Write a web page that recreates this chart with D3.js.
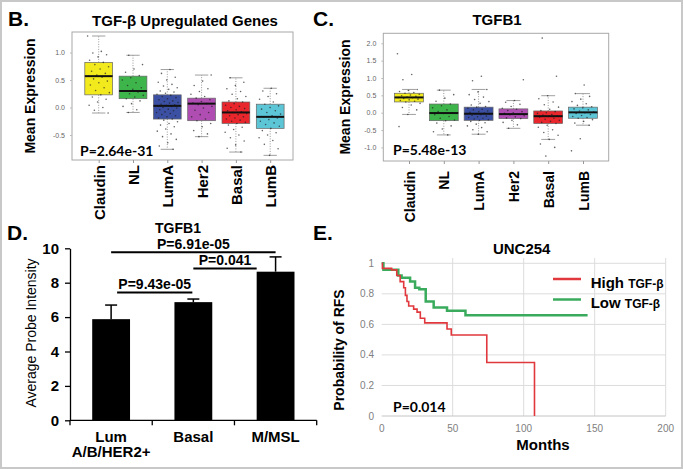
<!DOCTYPE html>
<html lang="en">
<head>
<meta charset="utf-8">
<title>TGF-beta panels</title>
<script src="https://d3js.org/d3.v7.min.js"></script>
<style>
  body { margin: 0; background: #fff; }
  svg { font-family: "Liberation Sans", Arial, sans-serif; display: block; }
</style>
</head>
<body>
<script>
// ---- data ----
const subtypes = ["Claudin", "NL", "LumA", "Her2", "Basal", "LumB"];
const subtypeColors = ["#f2ea1d", "#3db54a", "#3b4fa3", "#b04db2", "#e8262c", "#5cc5d6"];

// panel B: TGF-b upregulated genes (box stats: low whisker, q1, median, q3, high whisker)
const bLow = [-0.10, -0.09, -0.76, -0.53, -0.81, -0.87];
const bQ1 = [0.23, 0.16, -0.21, -0.24, -0.29, -0.38];
const bMed = [0.57, 0.30, 0.03, 0.07, -0.09, -0.17];
const bQ3 = [0.82, 0.57, 0.23, 0.17, 0.10, 0.06];
const bHigh = [1.30, 0.95, 0.69, 0.59, 0.54, 0.35];
const bTicks = [-0.5, 0.0, 0.5, 1.0];
const bPoints = [
  [1.30, 1.02, 0.99, 0.96, 0.92, 0.86, 0.82, 0.78, 0.74, 0.70, 0.66, 0.62, 0.59, 0.57, 0.55, 0.52, 0.48, 0.45, 0.41, 0.36, 0.31, 0.27, 0.23, 0.19, 0.15, 0.10, 0.04, 0.00, -0.05, -0.10],
  [0.95, 0.78, 0.70, 0.64, 0.58, 0.54, 0.50, 0.45, 0.40, 0.36, 0.33, 0.30, 0.28, 0.25, 0.22, 0.19, 0.16, 0.12, 0.07, 0.02, -0.04, -0.09],
  [0.69, 0.62, 0.55, 0.50, 0.46, 0.42, 0.39, 0.36, 0.33, 0.30, 0.28, 0.26, 0.24, 0.22, 0.20, 0.18, 0.16, 0.14, 0.12, 0.11, 0.09, 0.08, 0.06, 0.05, 0.04, 0.03, 0.02, 0.00, -0.01, -0.03, -0.04, -0.06, -0.08, -0.09, -0.11, -0.13, -0.15, -0.17, -0.19, -0.21, -0.23, -0.26, -0.29, -0.32, -0.35, -0.39, -0.43, -0.48, -0.53, -0.58, -0.64, -0.70, -0.76],
  [0.59, 0.48, 0.40, 0.34, 0.29, 0.24, 0.20, 0.17, 0.14, 0.11, 0.08, 0.07, 0.05, 0.02, -0.01, -0.05, -0.09, -0.13, -0.17, -0.21, -0.24, -0.29, -0.35, -0.42, -0.48, -0.53],
  [0.54, 0.46, 0.40, 0.34, 0.29, 0.24, 0.20, 0.16, 0.12, 0.10, 0.07, 0.04, 0.02, 0.00, -0.02, -0.04, -0.06, -0.08, -0.09, -0.11, -0.13, -0.15, -0.17, -0.19, -0.21, -0.23, -0.25, -0.27, -0.29, -0.32, -0.36, -0.40, -0.45, -0.50, -0.55, -0.61, -0.68, -0.74, -0.81],
  [0.35, 0.30, 0.25, 0.20, 0.15, 0.10, 0.06, 0.03, 0.00, -0.03, -0.06, -0.09, -0.12, -0.15, -0.17, -0.19, -0.22, -0.25, -0.28, -0.31, -0.34, -0.38, -0.42, -0.46, -0.50, -0.55, -0.60, -0.67, -0.75, -0.87]
];

// panel C: TGFB1
const cLow = [-0.05, -0.64, -0.62, -0.45, -0.77, -0.36];
const cQ1 = [0.31, -0.23, -0.22, -0.17, -0.31, -0.16];
const cMed = [0.44, -0.01, -0.03, -0.04, -0.10, 0.01];
const cQ3 = [0.56, 0.25, 0.16, 0.11, 0.05, 0.16];
const cHigh = [0.67, 0.65, 0.67, 0.35, 0.49, 0.55];
const cTicks = [-1.0, -0.5, 0.0, 0.5, 1.0, 1.5, 2.0];
const cPoints = [
  [1.70, 1.10, 0.95, 0.67, 0.64, 0.61, 0.58, 0.56, 0.53, 0.51, 0.49, 0.47, 0.45, 0.44, 0.43, 0.41, 0.39, 0.37, 0.35, 0.33, 0.31, 0.27, 0.22, 0.15, 0.08, -0.05, -0.40],
  [0.65, 0.52, 0.42, 0.33, 0.25, 0.20, 0.14, 0.08, 0.03, 0.00, -0.02, -0.06, -0.11, -0.16, -0.21, -0.23, -0.30, -0.38, -0.47, -0.55, -0.64],
  [1.05, 0.92, 0.67, 0.60, 0.52, 0.45, 0.38, 0.32, 0.27, 0.22, 0.18, 0.16, 0.13, 0.10, 0.08, 0.05, 0.03, 0.01, -0.01, -0.03, -0.04, -0.06, -0.08, -0.10, -0.12, -0.14, -0.16, -0.18, -0.20, -0.22, -0.25, -0.29, -0.33, -0.38, -0.43, -0.49, -0.55, -0.62],
  [0.95, 0.35, 0.30, 0.24, 0.18, 0.13, 0.10, 0.06, 0.03, 0.00, -0.02, -0.04, -0.06, -0.09, -0.12, -0.15, -0.17, -0.22, -0.28, -0.35, -0.45],
  [2.15, 1.05, 0.49, 0.40, 0.31, 0.23, 0.16, 0.10, 0.06, 0.03, 0.00, -0.02, -0.05, -0.07, -0.09, -0.11, -0.13, -0.16, -0.19, -0.22, -0.25, -0.28, -0.31, -0.36, -0.42, -0.49, -0.57, -0.65, -0.77, -0.90, -1.00, -1.25],
  [0.80, 0.55, 0.47, 0.39, 0.32, 0.26, 0.21, 0.17, 0.14, 0.11, 0.08, 0.05, 0.02, 0.00, -0.02, -0.05, -0.08, -0.11, -0.14, -0.16, -0.20, -0.25, -0.30, -0.36, -0.75, -1.10]
];

// panel D: TGFB1 average probe intensity
const dGroups = ["Lum A/B/HER2+", "Basal", "M/MSL"];
const dMeans = [5.88, 6.87, 8.64];
const dErr = [0.82, 0.18, 0.86];
const dTicks = [0, 2, 4, 6, 8, 10];
const dComparisons = [
  { a: "Lum A/B/HER2+", b: "M/MSL", p: "P=6.91e-05" },
  { a: "Basal", b: "M/MSL", p: "P=0.041" },
  { a: "Lum A/B/HER2+", b: "Basal", p: "P=9.43e-05" }
];

// panel E: UNC254 relapse-free survival
const highT = [0, 0.5, 7, 10.6, 13, 15.5, 16.7, 17.8, 19, 22.5, 24.9, 27.2, 30.3, 46, 49, 74, 107.6];
const highS = [1, 0.967, 0.957, 0.92, 0.88, 0.84, 0.79, 0.75, 0.72, 0.70, 0.68, 0.64, 0.61, 0.57, 0.53, 0.35, 0];
const lowT = [0, 1.2, 11.7, 14, 20, 23.5, 26.5, 31, 36.6, 46, 59, 145];
const lowS = [1, 0.957, 0.92, 0.906, 0.88, 0.84, 0.83, 0.75, 0.71, 0.69, 0.66, 0.66];
const eXTicks = [0, 50, 100, 150, 200];
const eYTicks = [0, 0.2, 0.4, 0.6, 0.8, 1];

// ---- svg ----
const width = 683, height = 469;
const svg = d3.select("body").append("svg")
  .attr("width", width)
  .attr("height", height);

svg.append("rect")
  .attr("x", 1).attr("y", 1)
  .attr("width", width - 2).attr("height", height - 2)
  .attr("fill", "#fff")
  .attr("stroke", "#c8c8c8")
  .attr("stroke-width", 2);

// panel letters
[["B.", 8, 26], ["C.", 313, 26], ["D.", 7, 240], ["E.", 313, 240]].forEach(l => {
  svg.append("text").attr("x", l[1]).attr("y", l[2])
    .attr("font-size", 21).attr("font-weight", "bold").text(l[0]);
});

// ---- box plot panels (B and C) ----
function boxPanel(o) {
  const g = svg.append("g");
  const x = o.x, y = o.y;
  const boxW = x.step() * o.boxFrac;

  g.append("rect")
    .attr("x", o.frame[0]).attr("y", o.frame[2])
    .attr("width", o.frame[1] - o.frame[0]).attr("height", o.frame[3] - o.frame[2])
    .attr("fill", "none").attr("stroke", "#a8a8a8");

  const left = g.append("g")
    .attr("transform", "translate(" + o.frame[0] + ",0)")
    .call(d3.axisLeft(y).tickValues(o.ticks).tickSize(2).tickPadding(5)
      .tickFormat(d => d.toFixed(1).replace("\u2212", "-")));
  left.select(".domain").remove();
  left.selectAll("line").attr("stroke", "#bbb");
  left.selectAll("text").attr("font-size", 7).attr("fill", "#666").attr("font-family", "Liberation Sans, Arial");

  const bottom = g.append("g")
    .attr("transform", "translate(0," + o.frame[3] + ")")
    .call(d3.axisBottom(x).tickSize(3));
  bottom.select(".domain").remove();
  bottom.selectAll("line").attr("stroke", "#999");
  bottom.selectAll("text")
    .attr("transform", "rotate(-90)")
    .attr("x", -o.labelGap).attr("y", 0).attr("dy", "0.36em")
    .style("text-anchor", "end")
    .attr("font-size", o.labelSize).attr("font-weight", "bold")
    .attr("fill", "#000").attr("font-family", "Liberation Sans, Arial");

  subtypes.forEach((s, i) => {
    const cx = x(s);
    // whiskers
    g.append("line").attr("x1", cx).attr("x2", cx)
      .attr("y1", y(o.q3[i])).attr("y2", y(o.hi[i]))
      .attr("stroke", "#999").attr("stroke-dasharray", "1,1.5");
    g.append("line").attr("x1", cx).attr("x2", cx)
      .attr("y1", y(o.q1[i])).attr("y2", y(o.lo[i]))
      .attr("stroke", "#999").attr("stroke-dasharray", "1,1.5");
    [o.hi[i], o.lo[i]].forEach(v => {
      g.append("line")
        .attr("x1", cx - boxW * 0.24).attr("x2", cx + boxW * 0.24)
        .attr("y1", y(v)).attr("y2", y(v))
        .attr("stroke", "#888").attr("stroke-width", 0.8);
    });
    g.append("rect")
      .attr("x", cx - boxW / 2).attr("y", y(o.q3[i]))
      .attr("width", boxW).attr("height", y(o.q1[i]) - y(o.q3[i]))
      .attr("fill", subtypeColors[i])
      .attr("stroke", "#666").attr("stroke-width", 0.7);
    // jittered points
    g.selectAll(null).data(o.points[i]).enter().append("circle")
      .attr("cx", (d, j) => cx + (((j * 0.618034 + i * 0.31) % 1) - 0.5) * boxW * 0.8)
      .attr("cy", d => y(d))
      .attr("r", 0.8)
      .attr("fill", "#222").attr("opacity", 0.7);
    g.append("line")
      .attr("x1", cx - boxW / 2).attr("x2", cx + boxW / 2)
      .attr("y1", y(o.med[i])).attr("y2", y(o.med[i]))
      .attr("stroke", "#111").attr("stroke-width", 2);
  });

  g.append("text").attr("x", o.pPos[0]).attr("y", o.pPos[1])
    .attr("font-family", "Lato, 'Open Sans', sans-serif").attr("font-weight", "bold")
    .attr("font-size", 14).text(o.pText);

  g.append("text")
    .attr("transform", "translate(" + o.yLab[0] + "," + o.yLab[1] + ") rotate(-90)")
    .attr("text-anchor", "middle").attr("font-size", 14).attr("font-weight", "bold")
    .text("Mean Expression");

  g.append("text").attr("x", o.title[0]).attr("y", o.title[1])
    .attr("text-anchor", "middle").attr("font-size", 15).attr("font-weight", "bold")
    .text(o.titleText);
}

boxPanel({
  x: d3.scalePoint().domain(subtypes).range([98.7, 270.2]),
  y: d3.scaleLinear().domain([0, 1]).range([107.5, 52.5]),
  frame: [72, 293, 32, 160],
  boxFrac: 0.81,
  ticks: bTicks,
  lo: bLow, q1: bQ1, med: bMed, q3: bQ3, hi: bHigh,
  points: bPoints,
  labelGap: 5, labelSize: 15,
  pText: "P=2.64e-31", pPos: [80, 156],
  yLab: [35, 96],
  title: [185, 26], titleText: "TGF-\u03b2 Upregulated Genes"
});

boxPanel({
  x: d3.scalePoint().domain(subtypes).range([409, 583]),
  y: d3.scaleLinear().domain([0, 1]).range([112.7, 78.0]),
  frame: [383.3, 608.7, 33.3, 161],
  boxFrac: 0.83,
  ticks: cTicks,
  lo: cLow, q1: cQ1, med: cMed, q3: cQ3, hi: cHigh,
  points: cPoints,
  labelGap: 10, labelSize: 14,
  pText: "P=5.48e-13", pPos: [393, 155],
  yLab: [350, 97],
  title: [497, 25], titleText: "TGFB1"
});

// ---- panel D: bar chart ----
const xD = d3.scaleBand().domain(dGroups).range([70, 316.7]);
const yD = d3.scaleLinear().domain([0, 10]).range([420.3, 248.3]);
const barW = xD.bandwidth() * 0.46;
const cD = d => xD(d) + xD.bandwidth() / 2;

const gD = svg.append("g");
const leftD = gD.append("g")
  .attr("transform", "translate(70,0)")
  .call(d3.axisLeft(yD).tickValues(dTicks).tickSize(5).tickSizeOuter(0).tickPadding(6));
leftD.selectAll("path, line").attr("stroke", "#000").attr("stroke-width", 1.3);
leftD.selectAll("text").attr("font-size", 15).attr("font-weight", "bold").attr("fill", "#000")
  .attr("font-family", "Liberation Sans, Arial");

gD.append("line").attr("x1", xD.range()[0]).attr("x2", xD.range()[1])
  .attr("y1", yD(0)).attr("y2", yD(0)).attr("stroke", "#000").attr("stroke-width", 1.3);
gD.selectAll(null).data(dGroups.map(d => xD(d)).concat([xD.range()[1]])).enter().append("line")
  .attr("x1", d => d).attr("x2", d => d)
  .attr("y1", yD(0)).attr("y2", yD(0) + 5)
  .attr("stroke", "#000").attr("stroke-width", 1.3);

gD.selectAll(".bar").data(dGroups).enter().append("rect")
  .attr("x", d => cD(d) - barW / 2)
  .attr("y", (d, i) => yD(dMeans[i]))
  .attr("width", barW)
  .attr("height", (d, i) => yD(0) - yD(dMeans[i]))
  .attr("fill", "#000");

dGroups.forEach((d, i) => {
  const top = yD(dMeans[i] + dErr[i]);
  gD.append("line").attr("x1", cD(d)).attr("x2", cD(d))
    .attr("y1", yD(dMeans[i])).attr("y2", top).attr("stroke", "#000").attr("stroke-width", 1.5);
  gD.append("line").attr("x1", cD(d) - 6).attr("x2", cD(d) + 6)
    .attr("y1", top).attr("y2", top).attr("stroke", "#000").attr("stroke-width", 1.5);
});

// significance brackets
const compLayout = [
  { y: 252.3, dx0: 0, dx1: 0 },
  { y: 268.5, dx0: 0, dx1: -barW / 2 },
  { y: 292.5, dx0: 6, dx1: -1 }
];
dComparisons.forEach((c, i) => {
  const L = compLayout[i];
  const x0 = cD(c.a) + L.dx0, x1 = cD(c.b) + L.dx1;
  gD.append("line").attr("x1", x0).attr("x2", x1).attr("y1", L.y).attr("y2", L.y)
    .attr("stroke", "#000").attr("stroke-width", 2);
  gD.append("text").attr("x", (x0 + x1) / 2).attr("y", L.y - 3.5)
    .attr("text-anchor", "middle").attr("font-size", 14).attr("font-weight", "bold")
    .text(c.p);
});

// x labels
dGroups.forEach(d => {
  const parts = d === "Lum A/B/HER2+" ? ["Lum", "A/B/HER2+"] : [d];
  parts.forEach((p, k) => {
    gD.append("text").attr("x", cD(d)).attr("y", 441.5 + k * 15.5)
      .attr("text-anchor", "middle").attr("font-size", 15).attr("font-weight", "bold").text(p);
  });
});

gD.append("text")
  .attr("transform", "translate(36,333) rotate(-90)")
  .attr("text-anchor", "middle").attr("font-size", 14).text("Average Probe Intensity");
gD.append("text").attr("x", 178).attr("y", 233)
  .attr("text-anchor", "middle").attr("font-size", 14).attr("font-weight", "bold").text("TGFB1");

// ---- panel E: Kaplan-Meier ----
const xE = d3.scaleLinear().domain([0, 200]).range([381.7, 665.7]);
const yE = d3.scaleLinear().domain([0, 1]).range([416, 263.3]);
const gE = svg.append("g");

gE.selectAll(".hgrid").data(eYTicks.slice(1)).enter().append("line")
  .attr("x1", xE(0)).attr("x2", xE(200))
  .attr("y1", d => yE(d)).attr("y2", d => yE(d))
  .attr("stroke", "#dcdcdc");
gE.selectAll(".vgrid").data(eXTicks.slice(1)).enter().append("line")
  .attr("x1", d => xE(d)).attr("x2", d => xE(d))
  .attr("y1", 258).attr("y2", yE(0))
  .attr("stroke", "#dcdcdc");
gE.append("line").attr("x1", xE(0)).attr("x2", xE(200))
  .attr("y1", yE(0)).attr("y2", yE(0)).attr("stroke", "#c4c4c4");

gE.selectAll(".xt").data(eXTicks).enter().append("text")
  .attr("x", d => xE(d)).attr("y", 432)
  .attr("text-anchor", "middle").attr("font-size", 10).attr("fill", "#808080").text(d => d);
gE.selectAll(".yt").data(eYTicks).enter().append("text")
  .attr("x", 374).attr("y", d => yE(d) + 3.5)
  .attr("text-anchor", "end").attr("font-size", 10).attr("fill", "#808080").text(d => d);

const km = d3.line().x(d => xE(d[0])).y(d => yE(d[1])).curve(d3.curveStepAfter);
gE.append("path").datum(lowT.map((t, i) => [t, lowS[i]]))
  .attr("d", km).attr("fill", "none").attr("stroke", "#3aab5c").attr("stroke-width", 2.5);
gE.append("path").datum(highT.map((t, i) => [t, highS[i]]))
  .attr("d", km).attr("fill", "none").attr("stroke", "#e0383d").attr("stroke-width", 1.6);

[["High", "#e0383d", 279, 288.3], ["Low", "#3aab5c", 299.5, 308.3]].forEach(l => {
  gE.append("line").attr("x1", 553).attr("x2", 581).attr("y1", l[2]).attr("y2", l[2])
    .attr("stroke", l[1]).attr("stroke-width", 2.5);
  const t = gE.append("text").attr("x", 590.7).attr("y", l[3]).attr("font-weight", "bold");
  t.append("tspan").attr("font-size", 15).text(l[0] + " ");
  t.append("tspan").attr("font-size", 12).text("TGF-\u03b2");
});

gE.append("text").attr("x", 393).attr("y", 411.5)
  .attr("font-family", "Lato, 'Open Sans', sans-serif").attr("font-weight", "bold")
  .attr("font-size", 14).text("P=0.014");
gE.append("text").attr("x", 521.7).attr("y", 254)
  .attr("text-anchor", "middle").attr("font-size", 15).attr("font-weight", "bold").text("UNC254");
gE.append("text").attr("x", 543).attr("y", 450)
  .attr("text-anchor", "middle").attr("font-size", 15).attr("font-weight", "bold").text("Months");
gE.append("text")
  .attr("transform", "translate(344,350) rotate(-90)")
  .attr("text-anchor", "middle").attr("font-size", 14).attr("font-weight", "bold")
  .text("Probability of RFS");
</script>
</body>
</html>
